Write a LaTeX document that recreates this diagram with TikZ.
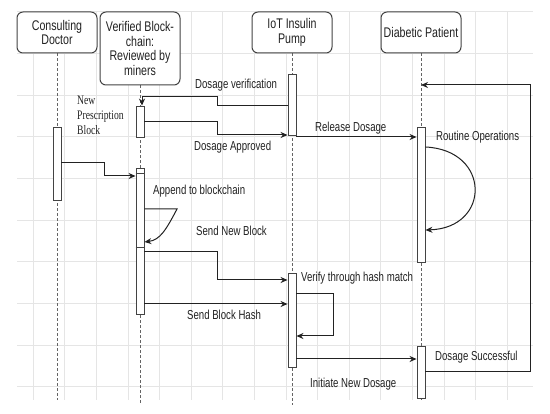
\documentclass[tikz,border=0pt]{standalone}
\usepackage{fontspec}
\setmainfont{Liberation Sans}
\newfontfamily\lblfont{Liberation Sans}[FakeStretch=0.74]
\newfontfamily\boxfont{Liberation Sans}[FakeStretch=0.76]
\newfontfamily\serlbl{Liberation Serif}[FakeStretch=0.74]
\usetikzlibrary{arrows.meta,calc}
\pgfdeclarelayer{bg}
\pgfsetlayers{bg,main}
\definecolor{ink}{HTML}{222222}
\tikzset{
  gridline/.style={draw=black!10, line width=0.6pt},
  actor/.style={draw=ink!85, fill=white, rounded corners=6pt, line width=1pt,
    minimum width=80pt, text=ink, align=center,
    font=\boxfont\fontsize{14}{14.5}\selectfont, inner sep=0pt},
  act/.style={draw=ink!85, fill=white, line width=0.9pt, minimum width=8pt, inner sep=0pt},
  life/.style={draw=ink!70, line width=0.8pt, dash pattern=on 3pt off 2pt},
  msg/.style={draw=ink, line width=1pt, -{Stealth[length=7pt,width=6pt]}},
  lbl/.style={font=\lblfont\fontsize{13}{14}\selectfont, text=ink, inner sep=0pt, anchor=west},
}
\begin{document}
\begin{tikzpicture}[x=1pt,y=-1pt]
\useasboundingbox (0,0) rectangle (550,414);
% background grid
\begin{pgfonlayer}{bg}
\fill[white] (0,0) rectangle (550,414);
\foreach \k in {0,...,15} \draw[gridline] ({33+31.6*\k},12) -- ({33+31.6*\k},400);
\foreach \k in {0,...,9} \draw[gridline] (17,{11.5+41.7*\k}) -- (533,{11.5+41.7*\k});
\end{pgfonlayer}
% actors
\node[actor, minimum height=41pt] (doc)  at (57,32.5)  {Consulting\\Doctor};
\node[actor, minimum height=73pt] (bc)   at (140,48.5) {Verified Block-\\chain:\\Reviewed by\\miners};
\node[actor, minimum height=41pt] (pump) at (292,32.5) {IoT Insulin\\Pump};
\node[actor, minimum height=41pt] (pat)  at (421,32.5) {Diabetic Patient};
% lifelines
\begin{pgfonlayer}{bg}
\draw[life] (doc.south)  -- (doc.south |- 0,400);
\draw[life] (bc.south)   -- (bc.south |- 0,405);
\draw[life] (pump.south) -- (pump.south |- 0,405);
\draw[life] (pat.south)  -- (pat.south |- 0,400);
\end{pgfonlayer}
% activations
\node[act, minimum height=31pt]  (bc1)   at (140,121.5) {};
\node[act, minimum height=73pt]  (doc1)  at (57,163.5)  {};
\node[act, minimum height=61pt]  (pump1) at (292,104.5) {};
\node[act, minimum height=135pt] (pat1)  at (421,194.5) {};
\node[act, minimum height=146pt] (bc2)   at (140,241)   {};
\node[act, minimum height=94pt]  (pump2) at (292,320)   {};
\node[act, minimum height=52pt]  (pat2)  at (421,372)   {};
\draw[ink!85, line width=0.8pt] (bc2.west |- 0,173) -- (bc2.east |- 0,173);
\draw[ink!85, line width=0.8pt] (bc2.west |- 0,247) -- (bc2.east |- 0,247);
% messages
\coordinate (dvA) at (217,106);
\draw[msg] (pump1.west |- dvA) -- (dvA) -- (217,97) -- (142,97) -- (bc1.north -| 142,0);
\node[lbl] (l1) at (195,85) {Dosage verification};

\draw[msg] (bc1.east |- 0,122) -- (217,122) -- (217,135) -- (pump1.west |- 0,135);
\node[lbl] (l2) at (194,147) {Dosage Approved};

\draw[msg] (pump1.east |- 0,137) -- (pat1.west |- 0,137);
\node[lbl] (l3) at (315,128) {Release Dosage};

\draw[msg] (pat1.east |- 0,147) .. controls (491,150) and (491,228) .. (pat1.east |- 0,230);
\node[lbl] (l4) at (436,137) {Routine Operations};

\draw[msg] (doc1.east |- 0,163) -- (104,163) -- (104,176) -- (bc2.west |- 0,176);
\node[font=\serlbl\fontsize{13}{15}\selectfont, text=ink, align=left, inner sep=0pt, anchor=north west] (l5) at (77,96) {New\\Prescription\\Block};

\node[lbl] (l6) at (153,191) {Append to blockchain};
\draw[msg] (bc2.east |- 0,209) -- (177,209) .. controls (166,230) and (160,240) .. (bc2.east |- 0,242);

\node[lbl] (l7) at (196,231) {Send New Block};
\draw[msg] (bc2.east |- 0,252) -- (217,252) -- (217,280) -- (pump2.west |- 0,280);

\draw[msg] (bc2.east |- 0,304) -- (pump2.west |- 0,304);
\node[lbl] (l8) at (187,315) {Send Block Hash};

\node[lbl] (l9) at (301,278) {Verify through hash match};
\draw[msg] (pump2.east |- 0,294) -- (333,294) -- (333,336) -- (pump2.east |- 0,336);

\draw[msg] (pump2.east |- 0,359) -- (pat2.west |- 0,359);
\node[lbl] (l10) at (310,384) {Initiate New Dosage};

\draw[msg] (pat2.east |- 0,372) -- (530,372) -- (530,85) -- (pat.south |- 0,85);
\node[lbl] (l11) at (435,357) {Dosage Successful};
\end{tikzpicture}
\end{document}
